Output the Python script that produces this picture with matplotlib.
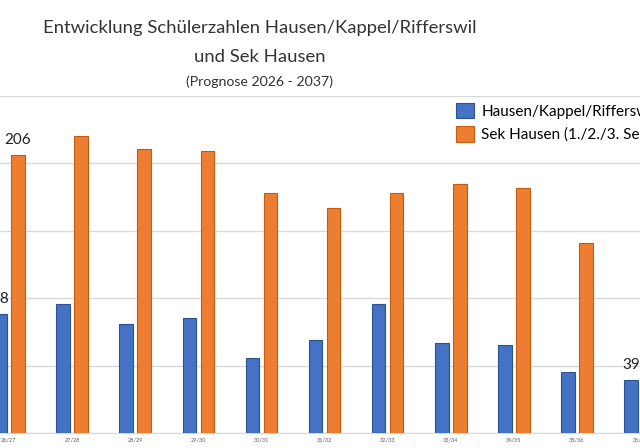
import numpy as np
import matplotlib.pyplot as plt

plt.rcParams['font.family'] = ['Lato', 'DejaVu Sans']

# Daten
jahre = ["26/27", "27/28", "28/29", "29/30", "30/31", "31/32",
         "32/33", "33/34", "34/35", "35/36", "36/37"]
primar = [88, 96, 81, 85, 56, 69, 96, 67, 65, 45, 39]
sek = [206, 220, 211, 209, 178, 167, 178, 185, 182, 141, np.nan]

serie_namen = ["Hausen/Kappel/Rifferswil", "Sek Hausen (1./2./3. Sek)"]
blau = "#4472C4"
orange = "#ED7D31"

fig = plt.figure(figsize=(6.4, 4.48), dpi=100)
# Ausschnitt: die Achse reicht links und rechts über das Bild hinaus
ax = fig.add_axes([0, 15 / 448, 1, 337 / 448])

x = np.arange(len(jahre))
breite = 0.215
b1 = ax.bar(x - 0.14, primar, breite, color=blau, edgecolor="#2F528F",
            linewidth=0.8, label=serie_namen[0], zorder=3)
b2 = ax.bar(x + 0.145, sek, breite, color=orange, edgecolor="#C55A11",
            linewidth=0.8, label=serie_namen[1], zorder=3)

# Beschriftung erste und letzte Säule
for bars, werte in [(b1, primar), (b2, sek)]:
    for i in [0, len(werte) - 1]:
        if np.isnan(werte[i]):
            continue
        r = bars[i]
        ax.text(r.get_x() + r.get_width() / 2, werte[i] + 6, str(int(werte[i])),
                ha="center", va="bottom", fontsize=11, color="#222222")

ax.set_xlim(-9 / 64, 631 / 64)
ax.set_ylim(0, 250)
ax.set_yticks([0, 50, 100, 150, 200, 250])
ax.yaxis.grid(True, color="#D9D9D9", linewidth=1, zorder=0)
ax.set_yticklabels([])
ax.tick_params(axis="y", length=0)
ax.set_xticks(x)
ax.set_xticklabels(jahre, fontsize=4, color="#595959")
ax.tick_params(axis="x", length=0, pad=3)
for s in ["left", "right", "top"]:
    ax.spines[s].set_visible(False)
ax.spines["bottom"].set_color("#D9D9D9")

fig.legend(loc="upper left", bbox_to_anchor=(456 / 640, 1 - 103 / 448),
           frameon=False, fontsize=11, handlelength=1.15, handleheight=1.15,
           handletextpad=0.5, labelspacing=0.5, borderpad=0, borderaxespad=0)

fig.text(260 / 640, 1 - 28 / 448, "Entwicklung Schülerzahlen Hausen/Kappel/Rifferswil",
         ha="center", va="center", fontsize=13.3, color="#333333")
fig.text(260 / 640, 1 - 57 / 448, "und Sek Hausen",
         ha="center", va="center", fontsize=13.3, color="#333333")
fig.text(260 / 640, 1 - 82 / 448, "(Prognose 2026 - 2037)",
         ha="center", va="center", fontsize=10.2, color="#333333")

fig.savefig("out.png", dpi=100, facecolor="white")
